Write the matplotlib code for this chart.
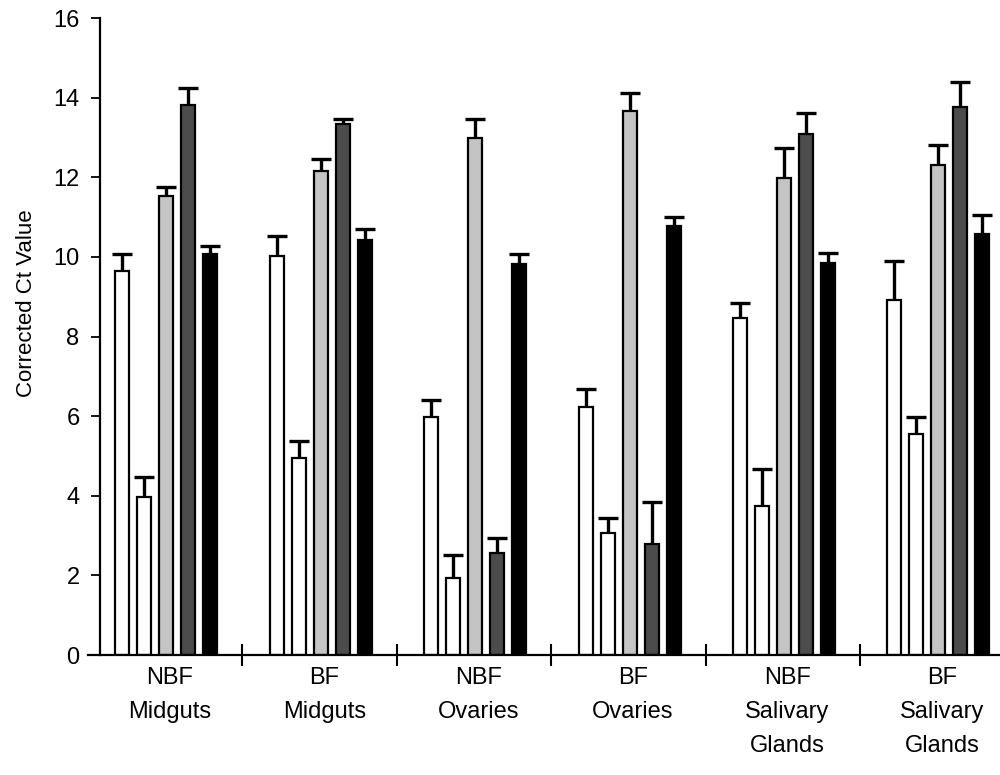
import numpy as np
import matplotlib
matplotlib.use("Agg")
import matplotlib.pyplot as plt

plt.rcParams["font.family"] = ["Liberation Sans", "DejaVu Sans"]

# Tissue / feeding-state groups
groups = ["NBF\nMidguts", "BF\nMidguts", "NBF\nOvaries", "BF\nOvaries",
          "NBF\nSalivary\nGlands", "BF\nSalivary\nGlands"]

# Corrected Ct values for the five series in each group
series_1 = [9.64, 10.01, 5.99, 6.24, 8.46, 8.92]
series_2 = [3.97, 4.96, 1.93, 3.06, 3.75, 5.54]
series_3 = [11.53, 12.16, 12.98, 13.67, 11.99, 12.32]
series_4 = [13.81, 13.34, 2.57, 2.78, 13.08, 13.76]
series_5 = [10.07, 10.42, 9.81, 10.78, 9.84, 10.57]

# Upper error (standard error) for each bar
err_1 = [0.43, 0.51, 0.42, 0.44, 0.39, 0.98]
err_2 = [0.50, 0.42, 0.58, 0.39, 0.91, 0.45]
err_3 = [0.22, 0.29, 0.48, 0.44, 0.75, 0.49]
err_4 = [0.43, 0.13, 0.38, 1.07, 0.53, 0.64]
err_5 = [0.20, 0.28, 0.26, 0.22, 0.25, 0.47]

values = [series_1, series_2, series_3, series_4, series_5]
errors = [err_1, err_2, err_3, err_4, err_5]
fills = ["white", "white", "#c4c4c4", "#4c4c4c", "black"]

fig = plt.figure(figsize=(10, 7.75), dpi=100)
ax = fig.add_axes([0.088, 1 - 655 / 775, 0.912, (655 - 18) / 775])

x = np.arange(len(groups))
step = 0.1425
width = 0.091
shift = 0.008
cap_half = 0.065

for k, (vals, errs, fc) in enumerate(zip(values, errors, fills)):
    pos = x + (k - 2) * step + shift
    vals = np.asarray(vals)
    errs = np.asarray(errs)
    ax.bar(pos, vals, width=width, color=fc, edgecolor="black",
           linewidth=1.6, zorder=2)
    ax.vlines(pos, vals, vals + errs, color="black", linewidth=2.4, zorder=3)
    ax.hlines(vals + errs, pos - cap_half, pos + cap_half, color="black",
              linewidth=2.4, zorder=3)

ax.set_xlim(-0.5, -0.5 + 912 / 154.4)
ax.set_ylim(0, 16)

for side in ("top", "right"):
    ax.spines[side].set_visible(False)
ax.spines["left"].set_position(("data", -0.5 + 12 / 154.4))
ax.spines["left"].set_linewidth(1.6)
ax.spines["bottom"].set_linewidth(1.6)

ax.set_yticks(np.arange(0, 17, 2))
ax.tick_params(axis="y", direction="out", length=6.7, width=1.3,
               pad=8, labelsize=17)

# group separators on the x axis, labels at group centres
ax.set_xticks(x[:-1] + 0.5)
ax.set_xticklabels([])
ax.tick_params(axis="x", which="major", direction="inout", length=16,
               width=1.5)
ax.set_xticks(x + 0.03, minor=True)
ax.set_xticklabels(groups, minor=True, fontsize=17, linespacing=1.7)
ax.tick_params(axis="x", which="minor", length=0, pad=9)

fig.text(0.027, 1 - 303 / 775, "Corrected Ct Value", rotation=90,
         ha="center", va="center", fontsize=16)

fig.savefig("out.png", dpi=100)
